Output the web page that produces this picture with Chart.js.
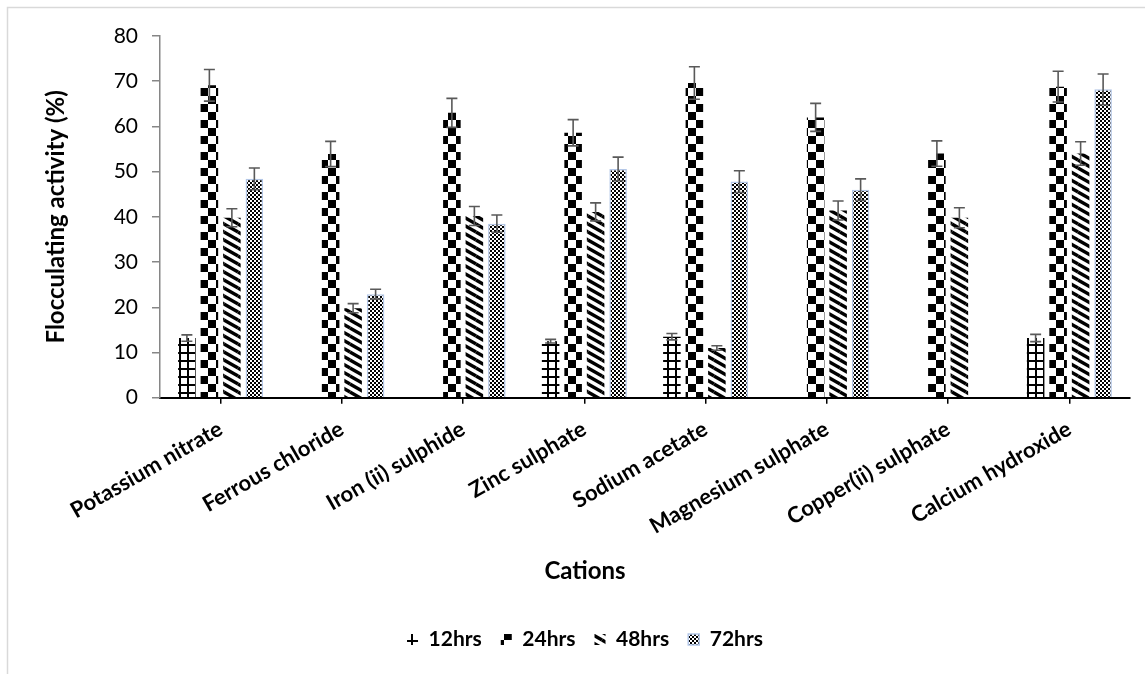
<!DOCTYPE html>
<html>
<head>
<meta charset="utf-8">
<title>Flocculating activity by cation</title>
<script src="https://cdn.jsdelivr.net/npm/chart.js@4.4.1/dist/chart.umd.min.js"></script>
<style>
  html, body { margin: 0; padding: 0; background: #fff; }
  #wrap { position: relative; width: 1145px; height: 674px; }
  canvas { display: block; }
</style>
</head>
<body>
<div id="wrap"><canvas id="chart" width="1145" height="674"></canvas></div>
<script>
// Cations tested (x-axis tick labels)
const categories = [
  'Potassium nitrate', 'Ferrous chloride', 'Iron (ii) sulphide', 'Zinc sulphate',
  'Sodium acetate', 'Magnesium sulphate', 'Copper(ii) sulphate', 'Calcium hydroxide'
];
const seriesNames = ['12hrs', '24hrs', '48hrs', '72hrs'];
const xTitle = 'Cations';
const yTitle = 'Flocculating activity (%)';

// Flocculating activity (%) per incubation time
const hrs12 = [13.2, null, null, 12.5, 13.5, null, null, 13.2];
const hrs24 = [69.1, 53.9, 63.0, 58.6, 69.6, 62.0, 54.0, 68.8];
const hrs48 = [39.8, 19.8, 40.2, 41.1, 11.0, 41.4, 39.8, 54.0];
const hrs72 = [48.4, 22.9, 38.5, 50.6, 47.8, 46.0, null, 68.2];

// Standard deviations (error bars)
const err12 = [0.7, null, null, 0.4, 0.7, null, null, 0.8];
const err24 = [3.5, 2.8, 3.2, 2.9, 3.6, 3.1, 2.8, 3.4];
const err48 = [2.0, 1.0, 2.1, 2.0, 0.5, 2.1, 2.2, 2.6];
const err72 = [2.4, 1.1, 1.9, 2.6, 2.4, 2.4, null, 3.4];

// y-axis range
const yMin = 0, yMax = 80, yStep = 10;

// --- fill patterns -------------------------------------------------------
function makePattern(w, h, paint) {
  const c = document.createElement('canvas');
  c.width = w; c.height = h;
  const g = c.getContext('2d');
  g.fillStyle = '#fff';
  g.fillRect(0, 0, w, h);
  g.fillStyle = '#000';
  g.strokeStyle = '#000';
  paint(g, w, h);
  return g.createPattern(c, 'repeat');
}

// cross grid
const gridFill = makePattern(8, 8, (g) => {
  g.fillRect(0, 0, 8, 2);
  g.fillRect(3, 0, 2, 8);
});
// large checkerboard
const checkFill = makePattern(16, 16, (g) => {
  g.fillRect(0, 0, 8, 8);
  g.fillRect(8, 8, 8, 8);
});
// wide downward diagonal
const diagFill = makePattern(14, 8, (g, w, h) => {
  g.lineWidth = 3.4;
  g.lineCap = 'butt';
  for (const dx of [-w, 0, w]) {
    for (const dy of [-h, 0, h]) {
      g.beginPath();
      g.moveTo(dx, dy);
      g.lineTo(dx + w, dy + h);
      g.stroke();
    }
  }
});
// small checkerboard
const dotFill = makePattern(4, 4, (g) => {
  g.fillRect(0, 0, 2, 2);
  g.fillRect(2, 2, 2, 2);
});

// --- plugins ------------------------------------------------------------
const frame = {
  id: 'frame',
  beforeDraw(chart) {
    const { ctx } = chart;
    ctx.save();
    ctx.fillStyle = '#fff';
    ctx.fillRect(0, 0, chart.width, chart.height);
    ctx.strokeStyle = '#d9d9d9';
    ctx.lineWidth = 1.5;
    ctx.strokeRect(7.5, 7.5, chart.width + 20, chart.height + 20);
    ctx.restore();
  }
};

const errorBars = {
  id: 'errorBars',
  afterDatasetsDraw(chart) {
    const { ctx } = chart;
    const y = chart.scales.y;
    ctx.save();
    ctx.strokeStyle = '#595959';
    ctx.lineWidth = 1.6;
    chart.data.datasets.forEach((ds, i) => {
      const meta = chart.getDatasetMeta(i);
      if (meta.hidden) return;
      meta.data.forEach((bar, j) => {
        const v = ds.data[j];
        const e = ds.errors[j];
        if (v == null || e == null) return;
        const yt = y.getPixelForValue(v + e);
        const yb = y.getPixelForValue(v - e);
        const cap = 5.5;
        ctx.beginPath();
        ctx.moveTo(bar.x, yt); ctx.lineTo(bar.x, yb);
        ctx.moveTo(bar.x - cap, yt); ctx.lineTo(bar.x + cap, yt);
        ctx.moveTo(bar.x - cap, yb); ctx.lineTo(bar.x + cap, yb);
        ctx.stroke();
      });
    });
    ctx.restore();
  }
};

// --- chart ------------------------------------------------------------------
Chart.defaults.font.family = "Lato, 'Open Sans', sans-serif";
Chart.defaults.color = '#000';

new Chart(document.getElementById('chart'), {
  type: 'bar',
  data: {
    labels: categories,
    datasets: [
      { label: seriesNames[0], data: hrs12, errors: err12, backgroundColor: gridFill, borderWidth: 0 },
      { label: seriesNames[1], data: hrs24, errors: err24, backgroundColor: checkFill, borderWidth: 0 },
      { label: seriesNames[2], data: hrs48, errors: err48, backgroundColor: diagFill, borderWidth: 0 },
      { label: seriesNames[3], data: hrs72, errors: err72, backgroundColor: dotFill, borderColor: '#b4c7e7', borderWidth: 1.5 }
    ]
  },
  options: {
    responsive: false,
    animation: false,
    devicePixelRatio: 1,
    categoryPercentage: 0.742,
    barPercentage: 0.78,
    layout: { padding: { top: 36, right: 15, bottom: 14, left: 40 } },
    plugins: {
      tooltip: { enabled: false },
      legend: {
        position: 'bottom',
        // the x-axis caption sits centred above the legend row
        title: {
          display: true,
          text: xTitle,
          color: '#000',
          font: { weight: 'bold', size: 24 },
          padding: { top: 10, bottom: 21.5 }
        },
        labels: {
          boxWidth: 11,
          boxHeight: 11,
          padding: 19,
          color: '#000',
          font: { weight: 'bold', size: 21 }
        }
      }
    },
    scales: {
      x: {
        offset: true,
        grid: {
          display: true,
          drawOnChartArea: false,
          drawTicks: true,
          tickLength: 6,
          color: '#000',
          lineWidth: 1.5,
          offset: false
        },
        border: { display: true, color: '#000', width: 2 },
        ticks: {
          autoSkip: false,
          maxRotation: 30,
          minRotation: 30,
          padding: 12,
          color: '#000',
          font: { weight: 'bold', size: 22 }
        },
        afterFit(scale) { scale.height = 152; }
      },
      y: {
        min: yMin,
        max: yMax,
        ticks: {
          stepSize: yStep,
          padding: 14,
          color: '#000',
          font: { size: 21 }
        },
        grid: {
          drawOnChartArea: false,
          drawTicks: true,
          tickLength: 8,
          color: '#868686',
          lineWidth: 1.5
        },
        border: { display: true, color: '#868686', width: 1.5 },
        title: {
          display: true,
          text: yTitle,
          color: '#000',
          font: { weight: 'bold', size: 24 },
          padding: { top: 2, bottom: 0 }
        },
        afterFit(scale) { scale.width = 120; }
      }
    }
  },
  plugins: [frame, errorBars]
});
</script>
</body>
</html>
